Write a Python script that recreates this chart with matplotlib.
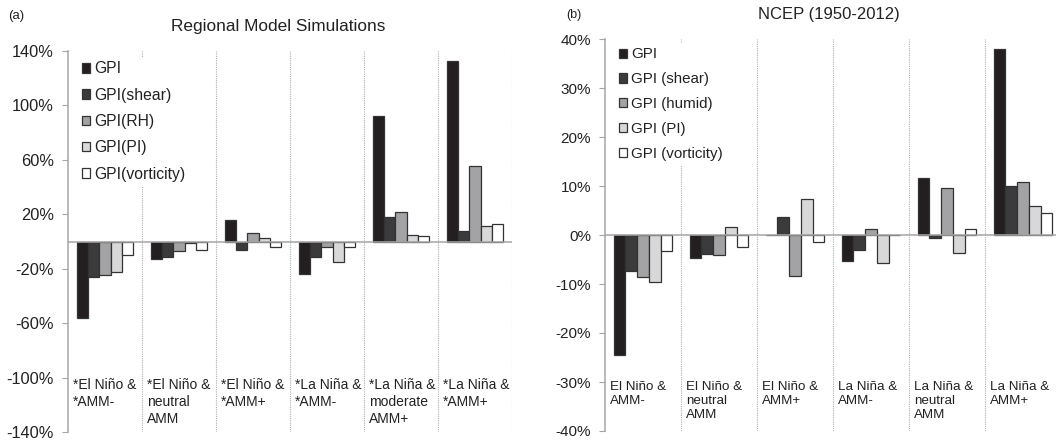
import numpy as np
import matplotlib.pyplot as plt

plt.rcParams['font.family'] = ['Liberation Sans', 'DejaVu Sans']

# --- Data (percent change) ---

# Panel (a): Regional model simulations
cats_a = ['*El Niño &\n*AMM-', '*El Niño &\nneutral\nAMM', '*El Niño &\n*AMM+',
          '*La Niña &\n*AMM-', '*La Niña &\nmoderate\nAMM+', '*La Niña &\n*AMM+']
labels_a = ['GPI', 'GPI(shear)', 'GPI(RH)', 'GPI(PI)', 'GPI(vorticity)']
gpi_a = [-56.0, -13.2, 15.6, -24.0, 92.4, 133.0]
shear_a = [-26.0, -11.5, -6.6, -11.2, 17.8, 8.0]
rh_a = [-24.4, -7.0, 6.1, -4.4, 21.7, 55.6]
pi_a = [-22.7, -1.0, 2.4, -15.0, 5.1, 11.7]
vort_a = [-10.2, -6.6, -3.9, -3.9, 4.1, 12.9]
yticks_a = [140, 100, 60, 20, -20, -60, -100, -140]

# Panel (b): NCEP reanalysis 1950-2012
cats_b = ['El Niño &\nAMM-', 'El Niño &\nneutral\nAMM', 'El Niño &\nAMM+',
          'La Niña &\nAMM-', 'La Niña &\nneutral\nAMM', 'La Niña &\nAMM+']
labels_b = ['GPI', 'GPI (shear)', 'GPI (humid)', 'GPI (PI)', 'GPI (vorticity)']
gpi_b = [-24.4, -4.7, 0.1, -5.4, 11.6, 37.9]
shear_b = [-7.4, -3.9, 3.7, -3.0, -0.6, 9.9]
humid_b = [-8.6, -4.1, -8.3, 1.2, 9.5, 10.9]
pi_b = [-9.6, 1.6, 7.3, -5.8, -3.7, 6.0]
vort_b = [-3.3, -2.4, -1.4, -0.1, 1.2, 4.4]
yticks_b = [40, 30, 20, 10, 0, -10, -20, -30, -40]

colors = ['#231f20', '#3b3b3b', '#a3a3a5', '#d8d8d8', '#ffffff']
axis_grey = '#a6a6a6'
text_col = '#222222'


def draw_panel(ax, cats, labels, series, yticks, tick_fs, label_fs, leg_fs,
               label_top, label_ls, leg_anchor):
    n = len(cats)
    x = np.arange(n)
    w = 0.154

    # dotted separators between the groups
    for k in range(1, n + 1):
        ax.axvline(k - 0.5, color='#b0b0b0', lw=0.8, ls=(0, (1, 1)), zorder=1)

    for i, vals in enumerate(series):
        ax.bar(x + (i - 2) * w, vals, w, color=colors[i], edgecolor='#333333',
               linewidth=0.9, label=labels[i], zorder=3)

    ax.axhline(0, color=axis_grey, lw=1.1, zorder=4)

    ax.set_xlim(-0.5, n - 0.5)
    ax.set_ylim(min(yticks), max(yticks))
    ax.set_yticks(yticks)
    ax.set_yticklabels(['%d%%' % v for v in yticks], fontsize=tick_fs, color=text_col)
    ax.set_xticks([])
    for s in ['top', 'right', 'bottom']:
        ax.spines[s].set_visible(False)
    ax.spines['left'].set_color(axis_grey)
    ax.spines['left'].set_linewidth(1.1)
    ax.tick_params(axis='y', direction='out', length=4, color=axis_grey, pad=6)

    # category labels sit inside the plot, near the bottom
    trans = ax.get_xaxis_transform()
    for k, c in enumerate(cats):
        ax.text(k - 0.5 + 0.07, label_top, c, transform=trans, ha='left', va='top',
                fontsize=label_fs, color=text_col, linespacing=label_ls)

    leg = ax.legend(loc='upper left', bbox_to_anchor=leg_anchor, fontsize=leg_fs,
                    frameon=True, framealpha=1, facecolor='white', edgecolor='none',
                    handlelength=0.55, handleheight=0.55, handletextpad=0.25,
                    labelspacing=0.72, borderpad=0.3, borderaxespad=0)
    leg.set_zorder(5)
    for t in leg.get_texts():
        t.set_color(text_col)


fig = plt.figure(figsize=(10.56, 4.41), dpi=100)

ax1 = fig.add_axes([68 / 1056, 9 / 441, 444 / 1056, 381 / 441])
draw_panel(ax1, cats_a, labels_a, [gpi_a, shear_a, rh_a, pi_a, vort_a], yticks_a,
           11.8, 10.0, 11.3, 0.142, 1.3, (0.02, 0.985))

ax2 = fig.add_axes([605 / 1056, 10 / 441, 456 / 1056, 392 / 441])
draw_panel(ax2, cats_b, labels_b, [gpi_b, shear_b, humid_b, pi_b, vort_b], yticks_b,
           11.0, 9.6, 10.9, 0.128, 1.22, (0.02, 0.99))

fig.text(278 / 1056, 1 - 27 / 441, 'Regional Model Simulations', ha='center', va='center',
         fontsize=12.4, color=text_col)
fig.text(16 / 1056, 1 - 16 / 441, '(a)', ha='center', va='center', fontsize=9.5,
         color=text_col)
fig.text(829 / 1056, 1 - 15 / 441, 'NCEP (1950-2012)', ha='center', va='center',
         fontsize=12, color=text_col)
fig.text(574 / 1056, 1 - 15 / 441, '(b)', ha='center', va='center', fontsize=9,
         color=text_col)

fig.savefig('out.png', dpi=100, facecolor='white')
